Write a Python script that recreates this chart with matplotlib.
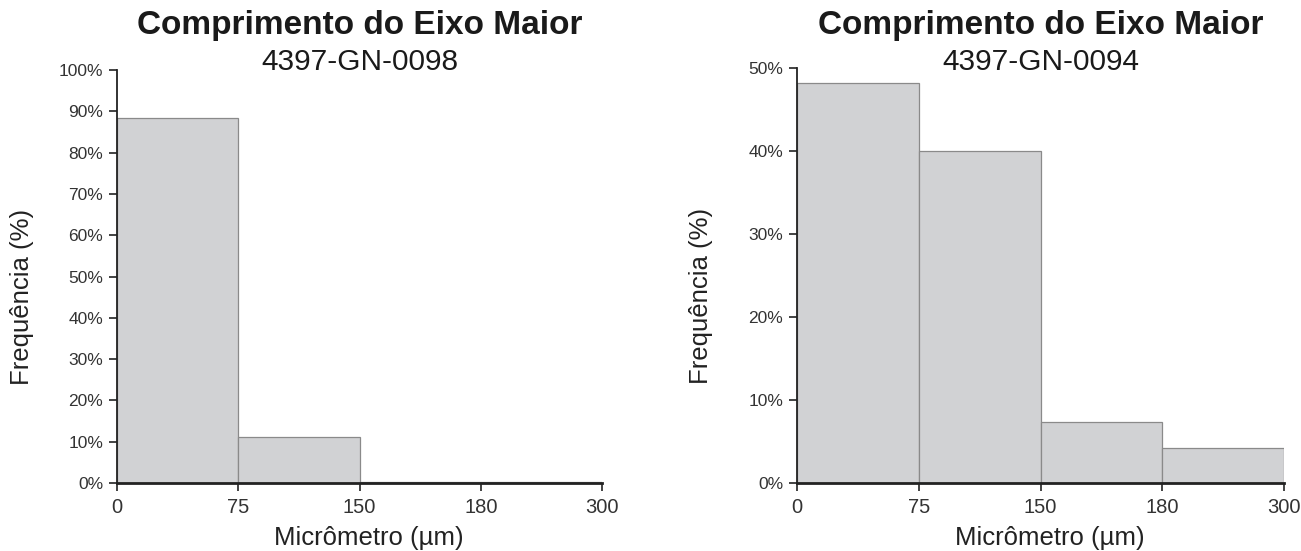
import matplotlib
matplotlib.use("Agg")
import matplotlib.pyplot as plt
from matplotlib.ticker import PercentFormatter

plt.rcParams['font.family'] = ['Liberation Sans', 'DejaVu Sans']

# bins (equal-width classes on the chart)
bin_labels = ['0', '75', '150', '180', '300']

left_name = '4397-GN-0098'
left_freq = [88.4, 11.1, 0.3, 0.3]

right_name = '4397-GN-0094'
right_freq = [48.2, 40.0, 7.3, 4.2]

title = 'Comprimento do Eixo Maior'
bar_color = '#d1d2d4'
edge_color = '#8a8a8a'

fig = plt.figure(figsize=(13.01, 5.51), dpi=100)
ax1 = fig.add_axes([0.090, 0.1234, 0.3727, 0.7495])
ax2 = fig.add_axes([0.6126, 0.1234, 0.3744, 0.7532])


def draw(ax, freq, ymax, step):
    pos = list(range(len(freq)))
    ax.bar(pos, freq, width=1.0, align='edge', color=bar_color,
           edgecolor=edge_color, linewidth=0.9, zorder=2)
    ax.set_xlim(0, len(freq))
    ax.set_ylim(0, ymax)
    ax.set_xticks(range(len(bin_labels)))
    ax.set_xticklabels(bin_labels)
    ax.set_yticks(range(0, ymax + 1, step))
    ax.yaxis.set_major_formatter(PercentFormatter(decimals=0))
    for s in ('top', 'right'):
        ax.spines[s].set_visible(False)
    ax.spines['left'].set_linewidth(1.3)
    ax.spines['bottom'].set_linewidth(2.0)
    ax.spines['left'].set_color('#222222')
    ax.spines['bottom'].set_color('#222222')
    ax.tick_params(axis='both', direction='out', length=6, width=1.2,
                   color='#222222', labelcolor='#333333')
    ax.tick_params(axis='y', labelsize=12.5, pad=4)
    ax.tick_params(axis='x', labelsize=14.5, pad=5)
    ax.set_xlabel('Micrômetro (µm)', fontsize=18.5, color='#222222')
    ax.set_ylabel('Frequência (%)', fontsize=18.5, color='#222222')
    # label positions as in the original (y label sits a bit below centre)
    ax.xaxis.set_label_coords(0.52, -0.104)
    ax.yaxis.set_label_coords(-0.172, 0.45)


draw(ax1, left_freq, 100, 10)
draw(ax2, right_freq, 50, 10)

for ax, name in ((ax1, left_name), (ax2, right_name)):
    pos = ax.get_position()
    xc = (pos.x0 + pos.x1) / 2
    fig.text(xc, 0.953, title, ha='center', va='center', fontsize=24,
             fontweight='bold', color='#1a1a1a')
    fig.text(xc, 0.887, name, ha='center', va='center', fontsize=21.5,
             color='#1a1a1a')

fig.savefig('out.png', dpi=100)
